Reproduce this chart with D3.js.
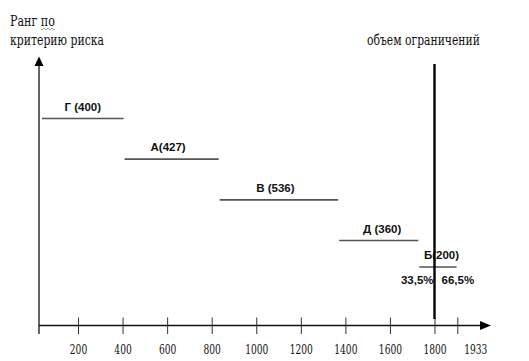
<!DOCTYPE html>
<html><head><meta charset="utf-8">
<script src="https://cdn.jsdelivr.net/npm/d3@7"></script>
<style>body{margin:0;background:#fff}svg{display:block}
.serif{font-family:"DejaVu Serif",serif}
</style>
</head><body>
<svg id="c" width="529" height="361"></svg>
<script>
// Data
const categories = ["Г (400)", "А(427)", "В (536)", "Д (360)", "Б(200)"];
const volumes = [400, 427, 536, 360, 200];
const ranks = [1, 2, 3, 4, 4.65];
const tickValues = [200, 400, 600, 800, 1000, 1200, 1400, 1600, 1800, 1933];
const limitValue = 1800;
const shareLabels = ["33,5%", "66,5%"];
const yTitle = ["Ранг по", "критерию риска"];
const limitTitle = "объем ограничений";

const svg = d3.select("#c");
const x = d3.scaleLinear().domain([0, 200, 1800, 1933]).range([39, 78, 434.5, 457.3]);
const y = d3.scaleLinear().domain([1, 4]).range([118.5, 240.5]);
const axisY = 325.5;
const sans = "Liberation Sans, Arial, sans-serif";

// place a text at (px,py) squeezed horizontally to width w; anchor: 0 start, 0.5 middle
function fitText(g, str, px, py, w, size, anchor) {
  const t = g.append("text").attr("class", "serif").attr("text-anchor", "start")
    .attr("font-size", size).attr("fill", "#111").text(str);
  const len = t.node().getComputedTextLength();
  const s = w / len;
  t.attr("transform", `translate(${px - anchor * w},${py}) scale(${s},1)`);
  return t;
}

let acc = 0;
const segs = volumes.map((v, i) => { const s = {name: categories[i], x0: acc, x1: acc + v, r: ranks[i]}; acc += v; return s; });

// x axis
svg.append("line").attr("x1", 39).attr("x2", 484).attr("y1", axisY).attr("y2", axisY)
  .attr("stroke", "#111").attr("stroke-width", 1.3);
svg.append("path").attr("d", `M491,${axisY} L480,${axisY-4.5} L480,${axisY+4.5} Z`).attr("fill", "#000");
const xa = svg.append("g").attr("transform", `translate(0,${axisY})`)
  .call(d3.axisBottom(x).tickValues(tickValues).tickSizeInner(8).tickSizeOuter(0).tickFormat(""));
xa.select(".domain").remove();
xa.selectAll(".tick text").remove();
xa.selectAll(".tick line").attr("y1", -8).attr("y2", 8.5).attr("stroke", "#333").attr("stroke-width", 1);
xa.selectAll(".tick").each(function (d) {
  const str = d3.format("d")(d);
  fitText(d3.select(this), str, d === 1933 ? 18 : 0, 28, str.length * 5.8, 13, 0.5);
});

// y axis
svg.append("line").attr("x1", 39).attr("x2", 39).attr("y1", 64).attr("y2", 334)
  .attr("stroke", "#111").attr("stroke-width", 1.3);
svg.append("path").attr("d", "M39,56.5 L34.5,66 L43.5,66 Z").attr("fill", "#000");

// segments
svg.selectAll("line.seg").data(segs).join("line").attr("class", "seg")
  .attr("x1", d => x(d.x0) + (d.x0 === 0 ? 3 : 2)).attr("x2", d => x(d.x1) + 1)
  .attr("y1", d => y(d.r)).attr("y2", d => y(d.r))
  .attr("stroke", "#555").attr("stroke-width", 1.6);
const labelShift = [2, -2, -2, 5, 5];
svg.selectAll("text.seg").data(segs).join("text").attr("class", "seg")
  .attr("x", (d, i) => (x(d.x0) + x(d.x1)) / 2 + labelShift[i])
  .attr("y", d => y(d.r) - 8)
  .attr("text-anchor", "middle").style("font-family", sans).attr("font-weight", "bold")
  .attr("font-size", 11.5).attr("fill", "#111").text(d => d.name);

// limit line
svg.append("line").attr("x1", x(limitValue)).attr("x2", x(limitValue)).attr("y1", 64).attr("y2", 319)
  .attr("stroke", "#000").attr("stroke-width", 2.4);

// shares
const last = segs[segs.length - 1];
svg.append("text").attr("x", x(limitValue) - 1).attr("y", y(last.r) + 17).attr("text-anchor", "end")
  .style("font-family", sans).attr("font-weight", "bold").attr("font-size", 11.5).attr("fill", "#111").text(shareLabels[0]);
svg.append("text").attr("x", x(limitValue) + 7).attr("y", y(last.r) + 17).attr("text-anchor", "start")
  .style("font-family", sans).attr("font-weight", "bold").attr("font-size", 11.5).attr("fill", "#111").text(shareLabels[1]);

// titles
fitText(svg, yTitle[0], 10, 26, 45, 15.5, 0);
fitText(svg, yTitle[1], 10, 45, 94, 15.5, 0);
fitText(svg, limitTitle, 367, 45, 113, 15.5, 0);
let sq = "M41,29";
for (let i = 0; i < 7; i++) sq += ` l1,${i % 2 ? -1 : 1} l1,${i % 2 ? 1 : -1}`;
svg.append("path").attr("d", sq).attr("fill", "none").attr("stroke", "#6a6").attr("stroke-width", 0.8);
</script>
</body></html>
